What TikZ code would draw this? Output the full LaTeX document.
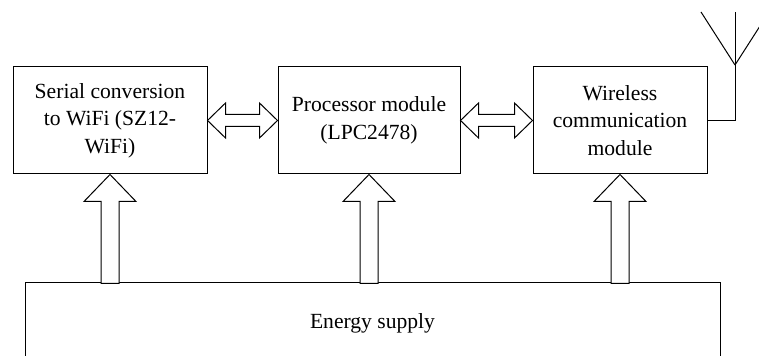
\documentclass[tikz,border=0pt]{standalone}
\usepackage{fontspec}
\setmainfont{Liberation Serif}
\usetikzlibrary{calc,positioning}

\begin{document}
\begin{tikzpicture}[
    x=0.5pt, y=-0.5pt,
    line width=0.5pt,
    box/.style={rectangle, draw, minimum width=97pt, minimum height=53.5pt, align=center,
        inner sep=0pt, font=\fontsize{10.8}{13.7}\selectfont},
    hollow/.style={draw, fill=white, line join=miter}
]
    \useasboundingbox (0,0) rectangle (759,356);

    \node[box] (serial) at (110,120.5) {Serial conversion\\to WiFi~(SZ12-\\WiFi)};
    \node[box, minimum width=91pt] (proc) at (369,120.5) {Processor module\\(LPC2478)};
    \node[box, minimum width=87pt] (wireless) at (620,120.5) {Wireless\\communication\\module};
    \node[box, minimum width=347.5pt, minimum height=40pt] (energy) at (372.5,323) {Energy supply};

    % double arrows between the modules
    \draw[hollow] (serial.east) -- ++(18,-17.5) -- ++(0,11.5) -- ($(proc.west)+(-18,-6)$)
        -- ++(0,-11.5) -- (proc.west) -- ++(-18,17.5) -- ++(0,-11.5)
        -- ($(serial.east)+(18,6)$) -- ++(0,11.5) -- cycle;
    \draw[hollow] (proc.east) -- ++(18,-17.5) -- ++(0,11.5) -- ($(wireless.west)+(-18,-6)$)
        -- ++(0,-11.5) -- (wireless.west) -- ++(-18,17.5) -- ++(0,-11.5)
        -- ($(proc.east)+(18,6)$) -- ++(0,11.5) -- cycle;

    % supply arrows
    \foreach \m in {serial, proc, wireless} {
        \draw[hollow] (\m.south) -- ++(26,27) -- ++(-17,0) -- ($(\m.south |- energy.north)+(9,1)$)
            -- ++(-18,0) -- ($(\m.south)+(-9,27)$) -- ++(-17,0) -- cycle;
    }

    % antenna
    \coordinate (anttop) at (735,12);
    \coordinate (antfork) at (735,65);
    \draw (wireless.east) -| (anttop);
    \draw (antfork) -- ++(-34,-53);
    \draw (antfork) -- ++(34,-53);
\end{tikzpicture}
\end{document}
